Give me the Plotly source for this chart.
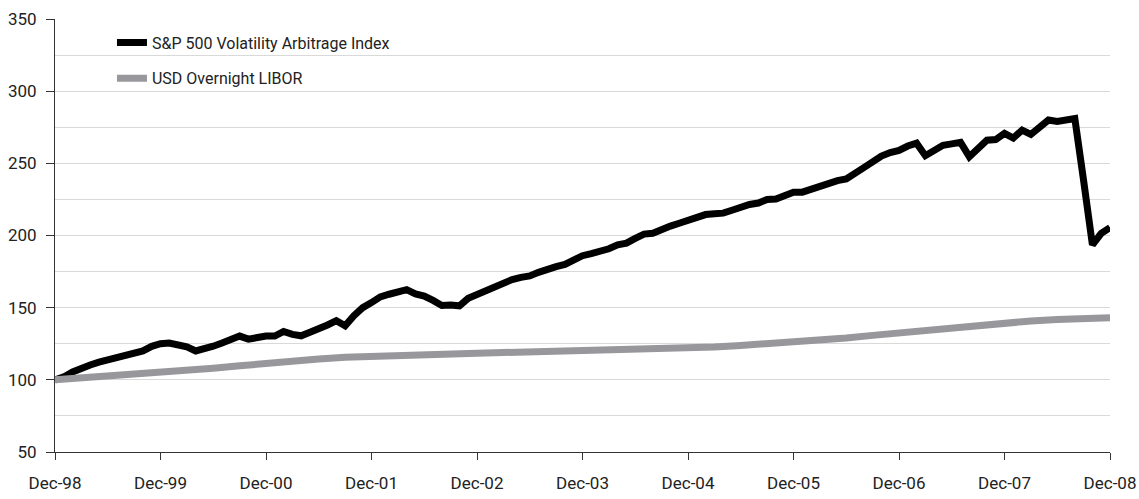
import plotly.graph_objects as go

# ---- data ----
year_labels = ["Dec-98", "Dec-99", "Dec-00", "Dec-01", "Dec-02", "Dec-03",
               "Dec-04", "Dec-05", "Dec-06", "Dec-07", "Dec-08"]

# S&P 500 Volatility Arbitrage Index, monthly Dec-98 .. Dec-08 (121 months)
vol_arb = [
    100, 102, 105.5, 108.3, 110.3, 112.3, 113.7, 115.7, 116.5, 118, 120, 123.2,
    125, 125.5, 124.3, 122.8, 120, 121.2, 123.3, 125.5, 128, 130.3, 128.2, 129.8,
    130.3, 130.3, 133.5, 131.5, 130.5, 133, 135, 138, 141, 137.5, 144.5, 150,
    153.5, 157.5, 159.3, 161, 162.5, 159.5, 158, 155, 151.5, 151.8, 151.3, 156.5,
    159.3, 162, 164, 166.5, 169.5, 171, 172, 174.5, 177, 178.4, 180, 183,
    186, 187.5, 189, 190.8, 193.5, 194.7, 198, 201, 201.5, 204.5, 206.5, 208.5,
    210.5, 212, 214.5, 215, 215.5, 217.5, 220, 221.5, 222.5, 225, 225.3, 227.5,
    230, 230, 232, 234.5, 237, 238, 239.2, 242.5, 247, 251, 255, 257.5,
    259, 262, 264, 255.3, 259.5, 262.5, 263.5, 264.5, 254.6, 261, 266, 266.5,
    270.8, 267.5, 273, 270, 275, 280, 279, 280, 281, 238, 193.5, 201.5,
    205.5,
]
vol_arb_month = list(range(len(vol_arb)))

# USD Overnight LIBOR (cumulative, rebased to 100), quarterly Dec-98 .. Dec-08
libor = [
    100, 101.2, 102.4, 103.7, 105.0, 106.4, 108.0, 109.7, 111.5, 113.0,
    114.4, 115.6, 116.4, 117.0, 117.5, 118.0, 118.5, 118.9, 119.3, 119.7,
    120.0, 120.4, 120.8, 121.3, 122.0, 122.8, 123.8, 124.9, 126.0, 127.4,
    129.0, 130.8, 132.6, 134.3, 136.0, 137.8, 139.5, 140.8, 141.8, 142.6,
    143.0,
]
libor_month = [3 * i for i in range(len(libor))]

year_tick_months = [12 * i for i in range(len(year_labels))]

FONT = "Roboto, Liberation Sans, sans-serif"

fig = go.Figure()
fig.add_trace(go.Scatter(
    x=vol_arb_month, y=vol_arb, mode="lines",
    name="S&P 500 Volatility Arbitrage Index",
    line=dict(color="#000000", width=7), legendgroup="a",
))
fig.add_trace(go.Scatter(
    x=libor_month, y=libor, mode="lines",
    name="USD Overnight LIBOR",
    line=dict(color="#98989c", width=7), legendgroup="b",
))

# white panel behind the legend (hides the gridlines there, as in the original)
fig.add_shape(
    type="rect", xref="paper", yref="paper",
    x0=0.0265, x1=0.3555, y0=0.8245, y1=0.9977,
    fillcolor="white", line=dict(width=0), layer="between",
)

fig.update_layout(
    width=1139, height=499,
    margin=dict(l=55, r=29, t=19, b=47),
    paper_bgcolor="white", plot_bgcolor="white",
    font=dict(family=FONT, size=17, color="#222222"),
    showlegend=True,
    legend=dict(
        x=0.054, y=0.985, xanchor="left", yanchor="top",
        bgcolor="rgba(0,0,0,0)", borderwidth=0,
        font=dict(family=FONT, size=16, color="#222222"),
        tracegroupgap=12,
    ),
    xaxis=dict(
        range=[0, 120], tickmode="array", tickvals=year_tick_months,
        ticktext=year_labels, showgrid=False, zeroline=False,
        showline=True, linecolor="#333333", linewidth=1,
        ticks="outside", ticklen=7, tickcolor="#333333",
        ticklabelstandoff=9, automargin=False,
    ),
    yaxis=dict(
        range=[50, 350], dtick=50, tick0=50,
        showgrid=True, gridcolor="#d9d9d9", gridwidth=1,
        minor=dict(dtick=25, showgrid=True, gridcolor="#d9d9d9", gridwidth=1),
        zeroline=False, showline=True, linecolor="#333333", linewidth=1,
        ticks="outside", ticklen=8, tickcolor="#333333",
        ticklabelstandoff=6, automargin=False,
    ),
)

fig.write_html(
    "out.html",
    config={"displayModeBar": False},
    post_script="document.body.style.margin='0';document.body.style.overflow='hidden';",
)
